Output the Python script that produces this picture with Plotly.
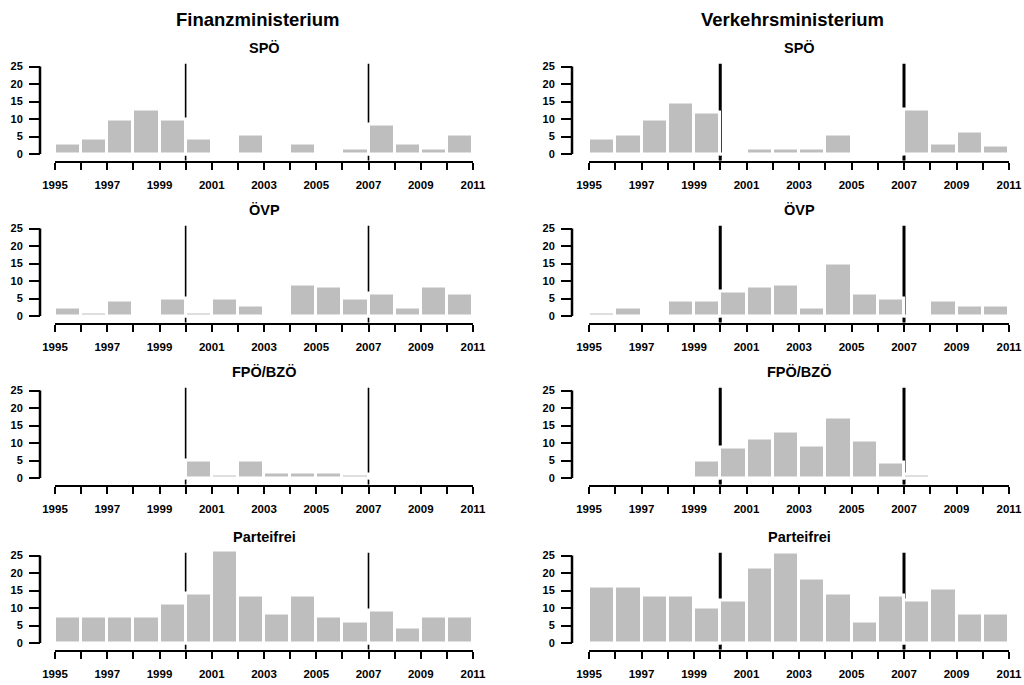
import plotly.graph_objects as go

# ---- data ----
years = list(range(1995, 2011))          # bar i spans [year, year+1]
tick_years = list(range(1995, 2012))
tick_labels = [str(y) if (y - 1995) % 2 == 0 else "" for y in tick_years]
y_ticks = [0, 5, 10, 15, 20, 25]
col_titles = ["Finanzministerium", "Verkehrsministerium"]
row_titles = ["SPÖ", "ÖVP", "FPÖ/BZÖ", "Parteifrei"]
markers = [2000, 2007]

finanz_spoe = [3.0, 4.3, 9.8, 12.6, 9.8, 4.3, 0, 5.7, 0, 2.9, 0, 1.6, 8.4, 2.9, 1.6, 5.7]
finanz_oevp = [2.3, 1.0, 4.4, 0, 5.0, 1.0, 5.0, 2.9, 0, 9.1, 8.5, 5.0, 6.3, 2.3, 8.5, 6.3]
finanz_fpoe = [0, 0, 0, 0, 0, 5.1, 1.0, 5.1, 1.7, 1.7, 1.7, 1.0, 0, 0, 0, 0]
finanz_frei = [7.6, 7.6, 7.6, 7.6, 11.4, 14.2, 26.5, 13.5, 8.3, 13.5, 7.6, 6.2, 9.4, 4.3, 7.6, 7.6]

verkehr_spoe = [4.3, 5.7, 9.8, 14.6, 11.9, 0, 1.6, 1.6, 1.6, 5.7, 0, 0, 12.6, 2.9, 6.4, 2.4]
verkehr_oevp = [1.0, 2.3, 0, 4.4, 4.4, 7.0, 8.5, 9.1, 2.3, 15.0, 6.5, 5.0, 0, 4.4, 2.9, 2.9]
verkehr_fpoe = [0, 0, 0, 0, 5.1, 8.7, 11.3, 13.2, 9.3, 17.3, 10.6, 4.4, 1.1, 0, 0, 0]
verkehr_frei = [16.2, 16.2, 13.5, 13.5, 10.1, 12.2, 21.7, 25.8, 18.3, 14.2, 6.2, 13.5, 12.2, 15.6, 8.3, 8.3]

series = [
    [finanz_spoe, verkehr_spoe],
    [finanz_oevp, verkehr_oevp],
    [finanz_fpoe, verkehr_fpoe],
    [finanz_frei, verkehr_frei],
]

# ---- layout geometry (pixels) ----
W, H = 1024, 685
PX = 3.5                       # pixels per unit
zero_px = [154, 316, 478, 643]
y_lo, y_hi = -1.9, 27.0
x_px = [(55, 473), (589, 1009)]
yaxis_px = [40, 572]

FONT = "Liberation Sans"

def fx(p):
    return p / W

def fy(p):
    return 1 - p / H

fig = go.Figure()
layout = dict(
    width=W, height=H,
    margin=dict(l=0, r=0, t=0, b=0, pad=0, autoexpand=False),
    paper_bgcolor="white", plot_bgcolor="white",
    showlegend=False, bargap=0,
    font=dict(family=FONT, color="black"),
)
shapes = []
annotations = []

for r in range(4):
    for c in range(2):
        i = r * 2 + c + 1
        xs = "" if i == 1 else str(i)
        xname, yname = "x" + xs, "y" + xs
        fig.add_trace(go.Bar(
            x=[y + 0.5 for y in years], y=series[r][c], width=1.0,
            marker=dict(color="#BEBEBE", line=dict(color="white", width=3)),
            xaxis=xname, yaxis=yname, hoverinfo="x+y",
        ))
        bot = zero_px[r] - y_lo * PX
        top = zero_px[r] - y_hi * PX
        layout["xaxis" + xs] = dict(
            domain=[fx(x_px[c][0]), fx(x_px[c][1])], anchor=yname,
            range=[1995, 2011], tickvals=tick_years, ticktext=tick_labels,
            showline=True, linecolor="black", linewidth=2,
            ticks="outside", ticklen=7, tickwidth=2, tickcolor="black",
            ticklabelstandoff=6, tickangle=0, automargin=False,
            tickfont=dict(family=FONT, size=11.5, color="black", weight="bold"),
            showgrid=False, zeroline=False, fixedrange=True,
        )
        layout["yaxis" + xs] = dict(
            domain=[fy(bot), fy(top)], anchor="free", position=fx(yaxis_px[c]),
            range=[y_lo, y_hi], tickvals=y_ticks, automargin=False,
            showline=False, ticks="outside", ticklen=11, tickwidth=2,
            tickcolor="black", ticklabelstandoff=4,
            tickfont=dict(family=FONT, size=11, color="black", weight="bold"),
            showgrid=False, zeroline=False, fixedrange=True,
        )
        # y axis line from 0 to 25 (R style)
        shapes.append(dict(type="line", xref="paper", yref=yname,
                           x0=fx(yaxis_px[c]), x1=fx(yaxis_px[c]), y0=0, y1=25,
                           line=dict(color="black", width=2.5)))
        # vertical marker lines
        for m in markers:
            shapes.append(dict(type="line", xref=xname, yref=yname,
                               x0=m, x1=m, y0=y_lo, y1=25.8, layer="below",
                               line=dict(color="black", width=1.6 if c == 0 else 3)))
        # row title
        annotations.append(dict(
            text=row_titles[r], xref="paper", yref="paper",
            x=fx((x_px[c][0] + x_px[c][1]) / 2), y=fy(zero_px[r] - 106),
            showarrow=False, xanchor="center", yanchor="middle",
            font=dict(family=FONT, size=14.5, color="black", weight="bold"),
        ))

for c in range(2):
    annotations.append(dict(
        text=col_titles[c], xref="paper", yref="paper",
        x=fx([257, 792][c]), y=fy(20),
        showarrow=False, xanchor="center", yanchor="middle",
        font=dict(family=FONT, size=18.5, color="black", weight="bold"),
    ))

layout["shapes"] = shapes
layout["annotations"] = annotations
fig.update_layout(**layout)
fig.write_html(
    "out.html",
    config={"displayModeBar": False},
    post_script="document.body.style.margin='0';document.body.style.overflow='hidden';",
)
